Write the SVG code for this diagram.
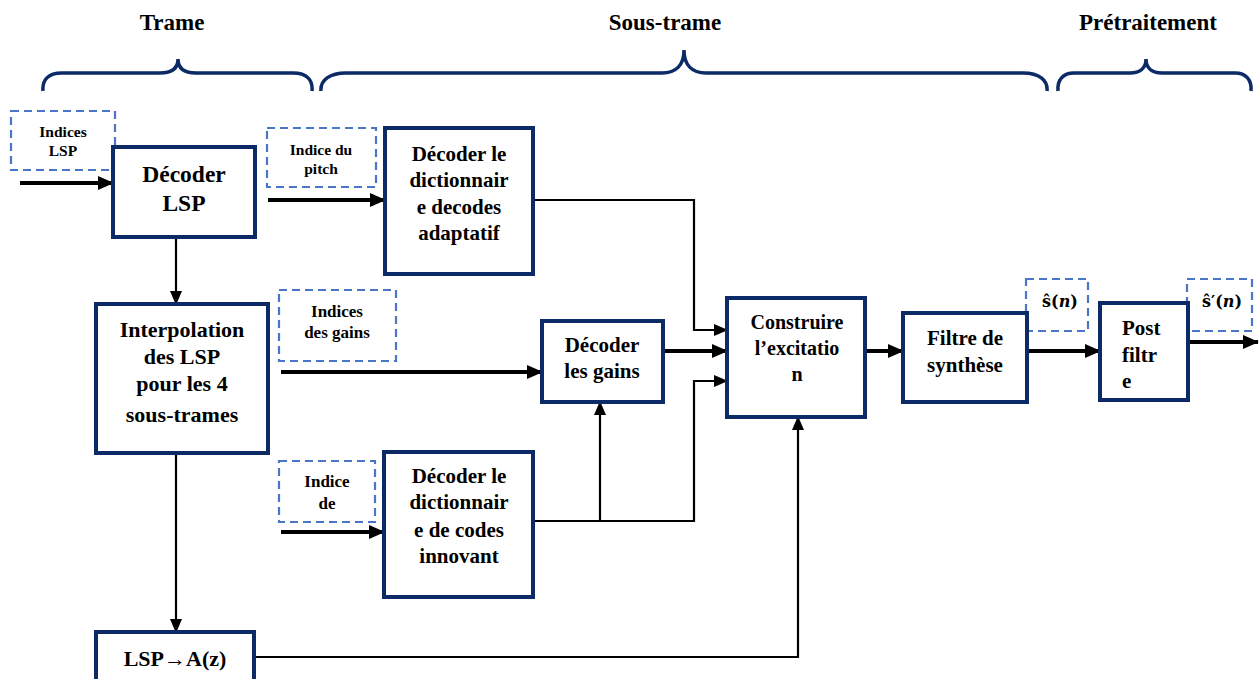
<svg xmlns="http://www.w3.org/2000/svg" width="1260" height="679" viewBox="0 0 1260 679">
  <style>
    .box { fill: #ffffff; stroke: #0b2a66; stroke-width: 4; }
    .tag { fill: none; stroke: #4a76c8; stroke-width: 2.2; stroke-dasharray: 8 5; }
    .brace { fill: none; stroke: #0b2a66; stroke-width: 3.5; }
    .thick { fill: none; stroke: #000; stroke-width: 4; }
    .thin { fill: none; stroke: #000; stroke-width: 2.2; }
    text { font-family: "Liberation Serif", "DejaVu Serif", serif; font-weight: bold; fill: #000; text-anchor: middle; }
    .hdr { font-size: 23px; }
    .big { font-size: 23.5px; }
    .lbl { font-size: 21px; }
    .sm { font-size: 15.5px; }
    .md { font-size: 17px; }
    .math { font-family: "DejaVu Serif", serif; font-size: 16px; }
  </style>
  <defs>
    <marker id="ah" markerUnits="userSpaceOnUse" markerWidth="16" markerHeight="14" refX="15" refY="7" orient="auto">
      <path d="M0,0 L16,7 L0,14 Z" fill="#000"/>
    </marker>
    <marker id="ahs" markerUnits="userSpaceOnUse" markerWidth="14" markerHeight="12" refX="13" refY="6" orient="auto">
      <path d="M0,0 L14,6 L0,12 Z" fill="#000"/>
    </marker>
  </defs>

  <rect width="1260" height="679" fill="#ffffff"/>

  <!-- section headings with braces -->
  <g id="headings">
    <text class="hdr" x="172" y="30">Trame</text>
    <text class="hdr" x="665" y="30">Sous-trame</text>
    <text class="hdr" x="1148" y="30">Prétraitement</text>
    <path class="brace" d="M43,91 C42,80 48,73 62,73 L160,73 C172,73 178,68 178,59 C178,68 184,73 196,73 L293,73 C307,73 313,80 312,91"/>
    <path class="brace" d="M321,91 C320,80 330,73 346,73 L662,73 C676,73 684,65 684,50 C684,65 692,73 706,73 L1023,73 C1039,73 1048,80 1047,91"/>
    <path class="brace" d="M1058,91 C1057,80 1063,73 1074,73 L1130,73 C1140,73 1146,68 1146,59 C1146,68 1152,73 1162,73 L1235,73 C1246,73 1252,80 1251,91"/>
  </g>

  <!-- connectors -->
  <g id="connectors">
    <line class="thick" x1="20" y1="183" x2="113" y2="183" marker-end="url(#ah)"/>
    <line class="thin" x1="176" y1="238" x2="176" y2="304" marker-end="url(#ahs)"/>
    <line class="thick" x1="268" y1="200" x2="385" y2="200" marker-end="url(#ah)"/>
    <line class="thick" x1="281" y1="372" x2="542" y2="372" marker-end="url(#ah)"/>
    <line class="thick" x1="281" y1="532" x2="384" y2="532" marker-end="url(#ah)"/>
    <polyline class="thin" points="533,200 694,200 694,330 727,330" marker-end="url(#ahs)"/>
    <line class="thick" x1="663" y1="351" x2="727" y2="351" marker-end="url(#ah)"/>
    <polyline class="thin" points="533,521 694,521 694,381 727,381" marker-end="url(#ahs)"/>
    <line class="thin" x1="600" y1="521" x2="600" y2="402" marker-end="url(#ahs)"/>
    <line class="thick" x1="865" y1="351" x2="903" y2="351" marker-end="url(#ah)"/>
    <line class="thick" x1="1027" y1="351" x2="1100" y2="351" marker-end="url(#ah)"/>
    <line class="thick" x1="1188" y1="342" x2="1258" y2="342" marker-end="url(#ah)"/>
    <line class="thin" x1="176" y1="453" x2="176" y2="632" marker-end="url(#ahs)"/>
    <polyline class="thin" points="254,657 798,657 798,417" marker-end="url(#ahs)"/>
  </g>

  <!-- input / output tags -->
  <g id="tag-lsp">
    <rect class="tag" x="11" y="111" width="104" height="59"/>
    <text class="sm" x="63" y="137">Indices</text>
    <text class="sm" x="63" y="156">LSP</text>
  </g>
  <g id="tag-pitch">
    <rect class="tag" x="267" y="128" width="109" height="59"/>
    <text class="sm" x="321" y="155">Indice du</text>
    <text class="sm" x="321" y="174">pitch</text>
  </g>
  <g id="tag-gains">
    <rect class="tag" x="279" y="290" width="117" height="71"/>
    <text class="md" x="337" y="317">Indices</text>
    <text class="md" x="337" y="338">des gains</text>
  </g>
  <g id="tag-code">
    <rect class="tag" x="279" y="461" width="96" height="61"/>
    <text class="md" x="327" y="487">Indice</text>
    <text class="md" x="327" y="509">de</text>
  </g>
  <g id="tag-s">
    <rect class="tag" x="1026" y="279" width="62" height="52"/>
    <text class="math" x="1060" y="307">ŝ(<tspan font-style="italic">n</tspan>)</text>
  </g>
  <g id="tag-s-prime">
    <rect class="tag" x="1187" y="279" width="65" height="52"/>
    <text class="math" x="1222" y="307">ŝ′(<tspan font-style="italic">n</tspan>)</text>
  </g>

  <!-- processing blocks -->
  <g id="decode-lsp">
    <rect class="box" x="113" y="147" width="142" height="90"/>
    <text class="big" x="184" y="182">Décoder</text>
    <text class="big" x="184" y="211">LSP</text>
  </g>
  <g id="interpolation">
    <rect class="box" x="96" y="304" width="172" height="149"/>
    <text class="lbl" x="182" y="337" style="font-size:22px">Interpolation</text>
    <text class="lbl" x="182" y="364" style="font-size:22px">des LSP</text>
    <text class="lbl" x="182" y="391" style="font-size:22px">pour les 4</text>
    <text class="lbl" x="182" y="422" style="font-size:22px">sous-trames</text>
  </g>
  <g id="lsp-to-az">
    <rect class="box" x="96" y="632" width="158" height="60"/>
    <text class="lbl" x="175" y="666" style="font-size:22px">LSP→A(z)</text>
  </g>
  <g id="adaptive-codebook">
    <rect class="box" x="385" y="128" width="148" height="146"/>
    <text class="lbl" x="459" y="161">Décoder le</text>
    <text class="lbl" x="459" y="187">dictionnair</text>
    <text class="lbl" x="459" y="214">e decodes</text>
    <text class="lbl" x="459" y="240">adaptatif</text>
  </g>
  <g id="gain-decoder">
    <rect class="box" x="542" y="321" width="121" height="81"/>
    <text class="lbl" x="602" y="352">Décoder</text>
    <text class="lbl" x="602" y="378">les gains</text>
  </g>
  <g id="fixed-codebook">
    <rect class="box" x="384" y="452" width="149" height="145"/>
    <text class="lbl" x="459" y="483">Décoder le</text>
    <text class="lbl" x="459" y="509">dictionnair</text>
    <text class="lbl" x="459" y="537">e de codes</text>
    <text class="lbl" x="459" y="563">innovant</text>
  </g>
  <g id="excitation">
    <rect class="box" x="727" y="298" width="138" height="119"/>
    <text class="lbl" x="797" y="329" style="font-size:20px">Construire</text>
    <text class="lbl" x="797" y="355" style="font-size:20px">l’excitatio</text>
    <text class="lbl" x="797" y="381" style="font-size:20px">n</text>
  </g>
  <g id="synthesis-filter">
    <rect class="box" x="903" y="313" width="124" height="89"/>
    <text class="lbl" x="965" y="345">Filtre de</text>
    <text class="lbl" x="965" y="372">synthèse</text>
  </g>
  <g id="post-filter">
    <rect class="box" x="1100" y="303" width="88" height="97"/>
    <text class="lbl" x="1122" y="335" style="text-anchor:start">Post</text>
    <text class="lbl" x="1122" y="362" style="text-anchor:start">filtr</text>
    <text class="lbl" x="1122" y="388" style="text-anchor:start">e</text>
  </g>
</svg>
